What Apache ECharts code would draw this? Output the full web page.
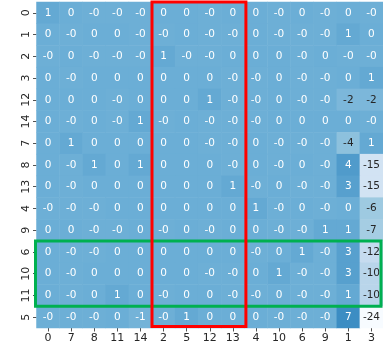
<!DOCTYPE html>
<html>
<head>
<meta charset="utf-8">
<script src="https://cdn.jsdelivr.net/npm/echarts@6/dist/echarts.min.js"></script>
<style>
  html, body { margin: 0; padding: 0; background: #fff; }
  #chart { width: 383px; height: 354px; }
</style>
</head>
<body>
<div id="chart"></div>
<script>
// column / row labels in the order they are shown
var colLabels = ['0', '7', '8', '11', '14', '2', '5', '12', '13', '4', '10', '6', '9', '1', '3'];
var rowLabels = ['0', '1', '2', '3', '12', '14', '7', '8', '13', '4', '9', '6', '10', '11', '5'];

// cell values, one array per row (-0.2 stands for a small negative that prints as "-0")
var row0  = [1, 0, -0.2, -0.2, -0.2, 0, 0, -0.2, 0, 0, -0.2, 0, -0.2, 0, -0.2];
var row1  = [0, -0.2, 0, 0, -0.2, -0.2, 0, -0.2, -0.2, 0, -0.2, -0.2, -0.2, 1, 0];
var row2  = [-0.2, 0, -0.2, -0.2, -0.2, 1, -0.2, -0.2, 0, 0, 0, -0.2, 0, -0.2, -0.2];
var row3  = [0, -0.2, 0, 0, 0, 0, 0, 0, -0.2, -0.2, 0, -0.2, -0.2, 0, 1];
var row12 = [0, 0, 0, -0.2, 0, 0, 0, 1, -0.2, -0.2, 0, -0.2, -0.2, -2, -2];
var row14 = [0, -0.2, 0, -0.2, 1, -0.2, 0, -0.2, -0.2, -0.2, 0, 0, 0, 0, -0.2];
var row7  = [0, 1, 0, 0, 0, 0, 0, -0.2, -0.2, 0, -0.2, -0.2, -0.2, -4, 1];
var row8  = [0, -0.2, 1, 0, 1, 0, 0, 0, -0.2, 0, -0.2, 0, -0.2, 4, -15];
var row13 = [0, -0.2, 0, 0, 0, 0, 0, 0, 1, -0.2, 0, -0.2, -0.2, 3, -15];
var row4  = [-0.2, -0.2, -0.2, 0, 0, 0, 0, 0, 0, 1, -0.2, 0, -0.2, 0, -6];
var row9  = [0, 0, -0.2, -0.2, 0, -0.2, 0, -0.2, 0, 0, -0.2, -0.2, 1, 1, -7];
var row6  = [0, -0.2, -0.2, 0, 0, 0, 0, 0, 0, -0.2, 0, 1, -0.2, 3, -12];
var row10 = [0, -0.2, 0, 0, 0, 0, 0, -0.2, -0.2, 0, 1, -0.2, -0.2, 3, -10];
var row11 = [0, -0.2, 0, 1, 0, -0.2, 0, 0, -0.2, -0.2, 0, -0.2, -0.2, 1, -10];
var row5  = [-0.2, -0.2, -0.2, 0, -1, -0.2, 1, 0, 0, 0, -0.2, -0.2, -0.2, 7, -24];

var rows = [row0, row1, row2, row3, row12, row14, row7, row8, row13, row4, row9, row6, row10, row11, row5];

var vMin = -24, vMax = 24;
var blues = ['#f7fbff', '#deebf7', '#c6dbef', '#9ecae1', '#6baed6', '#4292c6', '#2171b5', '#08519c', '#08306b'];

function hexRgb(h) {
    return [parseInt(h.substr(1, 2), 16), parseInt(h.substr(3, 2), 16), parseInt(h.substr(5, 2), 16)];
}
function bluesAt(v) {
    var t = Math.max(0, Math.min(1, (v - vMin) / (vMax - vMin))) * (blues.length - 1);
    var i = Math.min(blues.length - 2, Math.floor(t));
    var f = t - i;
    var a = hexRgb(blues[i]), b = hexRgb(blues[i + 1]);
    return [0, 1, 2].map(function (k) { return a[k] + (b[k] - a[k]) * f; });
}
function luminance(rgb) {
    var c = rgb.map(function (x) {
        x = x / 255;
        return x <= 0.03928 ? x / 12.92 : Math.pow((x + 0.055) / 1.055, 2.4);
    });
    return 0.2126 * c[0] + 0.7152 * c[1] + 0.0722 * c[2];
}

var data = [];
rows.forEach(function (r, y) {
    r.forEach(function (v, x) {
        var rgb = bluesAt(v);
        data.push({
            value: [x, y, v],
            label: { color: luminance(rgb) > 0.408 ? '#262626' : '#ffffff' }
        });
    });
});

var chart = echarts.init(document.getElementById('chart'));
var option = {
    animation: false,
    textStyle: { fontFamily: 'DejaVu Sans' },
    grid: { left: 36.5, right: 0, top: 2, bottom: 26 },
    xAxis: {
        type: 'category',
        data: colLabels,
        splitArea: { show: false },
        axisLine: { show: false },
        axisTick: { show: true, alignWithLabel: true, length: 3.5, lineStyle: { color: '#262626', width: 0.8 } },
        axisLabel: { color: '#262626', fontSize: 11, margin: 5, interval: 0 }
    },
    yAxis: {
        type: 'category',
        data: rowLabels,
        inverse: true,
        axisLine: { show: false },
        axisTick: { show: true, alignWithLabel: true, length: 3.5, lineStyle: { color: '#262626', width: 0.8 } },
        axisLabel: { color: '#262626', fontSize: 11, margin: 5, rotate: 90, interval: 0 }
    },
    visualMap: {
        show: false,
        min: vMin,
        max: vMax,
        dimension: 2,
        inRange: { color: blues }
    },
    series: [{
        type: 'heatmap',
        data: data,
        label: {
            show: true,
            fontSize: 10.5,
            formatter: function (p) { return p.value[2].toFixed(0); }
        },
        itemStyle: { borderWidth: 0 }
    }]
};
chart.setOption(option);

// highlight boxes, placed from the axes
var p0 = chart.convertToPixel({ xAxisIndex: 0, yAxisIndex: 0 }, [0, 0]);
var p1 = chart.convertToPixel({ xAxisIndex: 0, yAxisIndex: 0 }, [1, 1]);
var cw = p1[0] - p0[0], ch = p1[1] - p0[1];
function cellBox(c0, c1, r0, r1) {
    var a = chart.convertToPixel({ xAxisIndex: 0, yAxisIndex: 0 }, [c0, r0]);
    var b = chart.convertToPixel({ xAxisIndex: 0, yAxisIndex: 0 }, [c1, r1]);
    return { x: a[0] - cw / 2, y: a[1] - ch / 2, width: b[0] - a[0] + cw, height: b[1] - a[1] + ch };
}
var redBox = cellBox(5, 8, 0, 14);
var greenBox = cellBox(0, 14, 11, 13);
greenBox.x -= 1; greenBox.width -= 1;
redBox.width += 1.5; redBox.height -= 1.5;
chart.setOption({
    graphic: [
        { type: 'rect', shape: greenBox, style: { fill: 'none', stroke: '#00b050', lineWidth: 3 }, z: 100 },
        { type: 'rect', shape: redBox, style: { fill: 'none', stroke: '#ff0000', lineWidth: 3 }, z: 101 }
    ]
});
</script>
</body>
</html>
